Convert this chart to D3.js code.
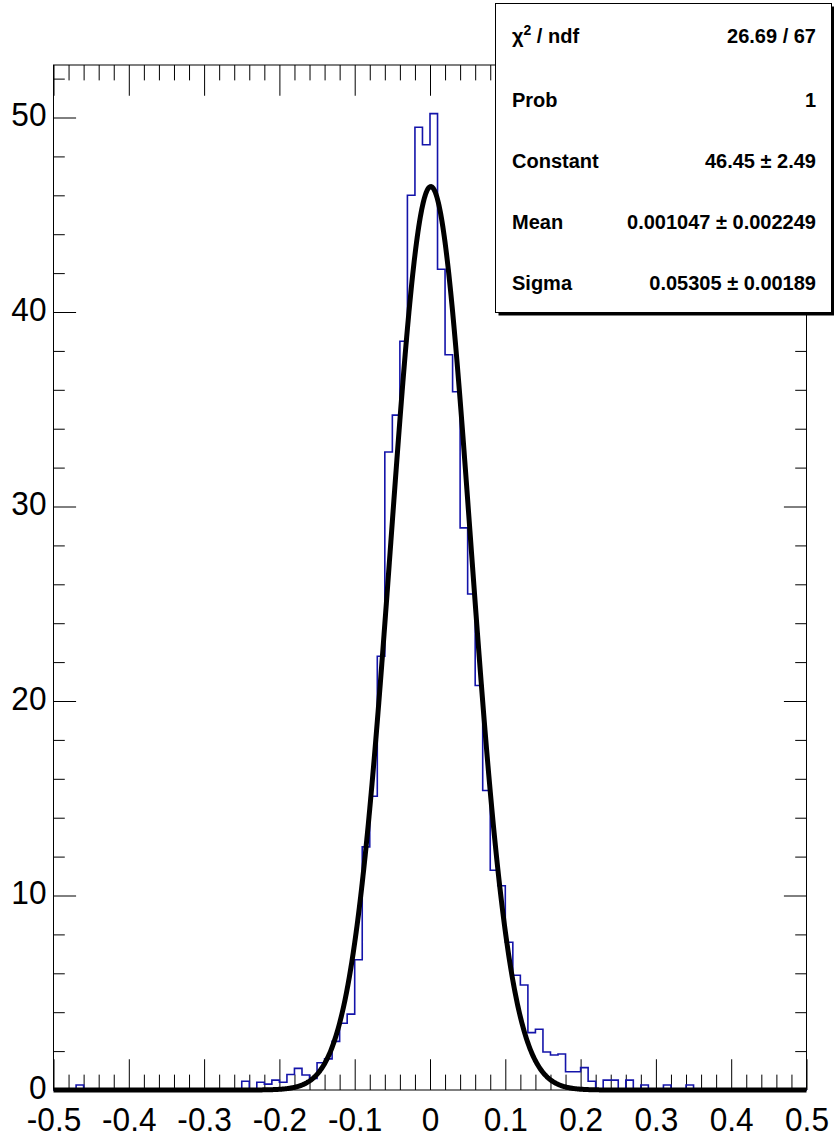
<!DOCTYPE html>
<html>
<head>
<meta charset="utf-8">
<script src="https://cdn.jsdelivr.net/npm/d3@7/dist/d3.min.js"></script>
<style>
  body { margin: 0; background: #fff; }
  svg { display: block; }
  .lbl { font-family: "Liberation Sans", Arial, Helvetica, sans-serif; font-size: 34px; fill: #000; }
  .stat { font-family: "Liberation Sans", Arial, Helvetica, sans-serif; font-size: 20px; font-weight: bold; fill: #000; }
</style>
</head>
<body>
<svg id="chart" width="834" height="1138"></svg>
<script>
var width = 834, height = 1138;
var frame = {left: 53.5, right: 806.5, top: 65, bottom: 1090};

// histogram: 100 bins from -0.5 to 0.5
var xMin = -0.5, xMax = 0.5, binWidth = 0.01;
var counts = [
  0, 0, 0, 0.26, 0, 0, 0, 0, 0, 0,
  0, 0, 0, 0, 0, 0, 0, 0, 0, 0,
  0, 0, 0, 0, 0, 0.45, 0, 0.4, 0.3, 0.51,
  0.4, 0.8, 1.11, 0.77, 0.6, 1.4, 1.6, 2.5, 3.43, 3.9,
  6.7, 12.5, 15.1, 22.3, 32.8, 34.7, 38.5, 46.0, 49.5, 48.6,
  50.2, 42.2, 37.8, 35.9, 28.9, 25.5, 20.8, 15.4, 11.3, 10.5,
  7.6, 5.9, 5.4, 2.95, 3.12, 1.95, 1.8, 1.85, 0.94, 0.94,
  1.15, 0.45, 0, 0.51, 0.51, 0, 0.51, 0, 0.26, 0,
  0, 0.26, 0, 0, 0.26, 0, 0, 0, 0, 0,
  0, 0, 0, 0, 0, 0, 0, 0, 0, 0
];

// gaus fit results
var fitConstant = 46.45, fitMean = 0.001047, fitSigma = 0.05305;

var statLabels = ["\u03c7", "Prob", "Constant", "Mean", "Sigma"];
var statValues = ["26.69 / 67", "1", "46.45 \u00b1 2.49", "0.001047 \u00b1 0.002249", "0.05305 \u00b1 0.00189"];

var xTicks = [-0.5, -0.4, -0.3, -0.2, -0.1, 0, 0.1, 0.2, 0.3, 0.4, 0.5];
var yTicks = [0, 10, 20, 30, 40, 50];
var yMax = 52.7;

var svg = d3.select("#chart");
svg.append("rect").attr("width", width).attr("height", height).attr("fill", "#fff");

var x = d3.scaleLinear().domain([xMin, xMax]).range([frame.left, frame.right]);
var y = d3.scaleLinear().domain([0, yMax]).range([frame.bottom, frame.top]);

var fh = frame.bottom - frame.top, fw = frame.right - frame.left;
var xMajor = fh * 0.03, yMajor = fw * 0.03;

var xMinor = d3.range(-50, 51, 2).map(function(d) { return d / 100; })
  .filter(function(d) { return Math.abs(Math.round(d * 10) - d * 10) > 1e-6; });
var yMinor = d3.range(0, 53, 2).filter(function(d) { return d % 10 != 0; });

function clean(g) {
  g.select(".domain").remove();
  g.selectAll(".tick line").attr("stroke", "#000").attr("stroke-width", 1);
}

// squeeze labels a bit, root's helvetica is narrower
function squeeze(sel) {
  sel.each(function() {
    var w = this.getComputedTextLength();
    d3.select(this).attr("textLength", w * 0.93).attr("lengthAdjust", "spacingAndGlyphs");
  });
}

// bottom axis
svg.append("g").attr("transform", "translate(0," + frame.bottom + ")")
  .call(d3.axisBottom(x).tickValues(xTicks).tickSize(-xMajor)
    .tickFormat(function(d) { return String(d); }))
  .call(clean)
  .selectAll("text").attr("class", "lbl").attr("font-size", null).attr("font-family", null)
  .attr("y", 41).attr("dy", null)
  .call(squeeze);
svg.append("g").attr("transform", "translate(0," + frame.bottom + ")")
  .call(d3.axisBottom(x).tickValues(xMinor).tickSize(-xMajor / 2).tickFormat(""))
  .call(clean);

// top axis
svg.append("g").attr("transform", "translate(0," + frame.top + ")")
  .call(d3.axisTop(x).tickValues(xTicks).tickSize(-xMajor).tickFormat(""))
  .call(clean);
svg.append("g").attr("transform", "translate(0," + frame.top + ")")
  .call(d3.axisTop(x).tickValues(xMinor).tickSize(-xMajor / 2).tickFormat(""))
  .call(clean);

// left axis
svg.append("g").attr("transform", "translate(" + frame.left + ",0)")
  .call(d3.axisLeft(y).tickValues(yTicks).tickSize(-yMajor).tickPadding(7)
    .tickFormat(function(d) { return String(d); }))
  .call(clean)
  .selectAll("text").attr("class", "lbl").attr("font-size", null).attr("font-family", null)
  .attr("dy", "0.24em")
  .call(squeeze);
svg.append("g").attr("transform", "translate(" + frame.left + ",0)")
  .call(d3.axisLeft(y).tickValues(yMinor).tickSize(-yMajor / 2).tickFormat(""))
  .call(clean);

// right axis
svg.append("g").attr("transform", "translate(" + frame.right + ",0)")
  .call(d3.axisRight(y).tickValues(yTicks).tickSize(-yMajor).tickFormat(""))
  .call(clean);
svg.append("g").attr("transform", "translate(" + frame.right + ",0)")
  .call(d3.axisRight(y).tickValues(yMinor).tickSize(-yMajor / 2).tickFormat(""))
  .call(clean);

// frame
svg.append("rect")
  .attr("x", frame.left).attr("y", frame.top)
  .attr("width", fw).attr("height", fh)
  .attr("fill", "none").attr("stroke", "#000").attr("stroke-width", 1);

// histogram outline
var pts = counts.map(function(c, i) { return [xMin + i * binWidth, c]; });
pts.push([xMax, counts[counts.length - 1]]);
var histLine = d3.line()
  .x(function(d) { return x(d[0]); })
  .y(function(d) { return y(d[1]); })
  .curve(d3.curveStepAfter);
svg.append("path").datum(pts)
  .attr("d", histLine)
  .attr("fill", "none").attr("stroke", "#1414aa").attr("stroke-width", 1.6);

// fitted gaussian
var fx = d3.range(0, 1001).map(function(i) { return xMin + i * (xMax - xMin) / 1000; });
var fitLine = d3.line()
  .x(function(d) { return x(d); })
  .y(function(d) { return y(fitConstant * Math.exp(-0.5 * Math.pow((d - fitMean) / fitSigma, 2))); });
svg.append("path").datum(fx)
  .attr("d", fitLine)
  .attr("fill", "none").attr("stroke", "#000").attr("stroke-width", 5)
  .attr("stroke-linejoin", "round");

// stats box
var box = {x: 495.5, y: 3.5, w: 336, h: 309};
svg.append("path")
  .attr("d", "M" + (box.x + 3) + "," + (box.y + box.h + 1.5) + "H" + (box.x + box.w + 1.5) + "V" + (box.y + 3))
  .attr("fill", "none").attr("stroke", "#000").attr("stroke-width", 3);
svg.append("rect")
  .attr("x", box.x).attr("y", box.y).attr("width", box.w).attr("height", box.h)
  .attr("fill", "#fff").attr("stroke", "#000").attr("stroke-width", 1);

var rowY = [43, 107, 168, 229, 290];
statLabels.forEach(function(l, i) {
  var t = svg.append("text").attr("class", "stat").attr("x", 512).attr("y", rowY[i]);
  if (i == 0) {
    t.append("tspan").text(l);
    t.append("tspan").attr("dy", -8).attr("font-size", "14px").text("2");
    t.append("tspan").attr("dy", 8).text(" / ndf");
  } else {
    t.text(l);
  }
  svg.append("text").attr("class", "stat").attr("x", 816).attr("y", rowY[i])
    .attr("text-anchor", "end").text(statValues[i]);
});
</script>
</body>
</html>
